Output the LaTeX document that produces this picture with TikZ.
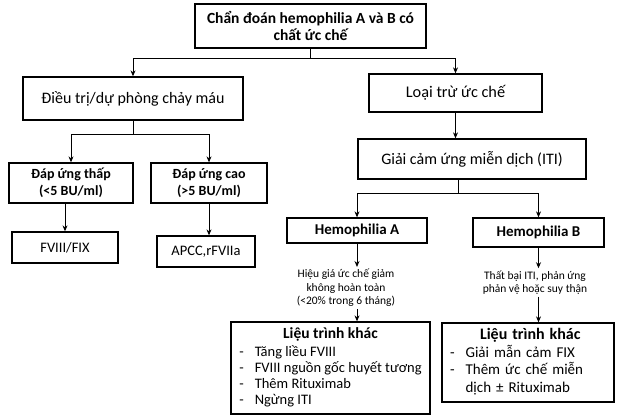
\documentclass[tikz,border=0pt]{standalone}
\usepackage{fontspec}
\setmainfont{Carlito}
\usetikzlibrary{arrows.meta}

\tikzset{
	box/.style={draw, line width=1.3pt, align=center, inner sep=2pt},
	note/.style={align=center, inner sep=2pt, font=\fontsize{11.5}{13.5}\selectfont},
	arr/.style={line width=0.9pt, -{Stealth[length=6pt,width=5pt]}},
}

\begin{document}
\begin{tikzpicture}[x=1pt, y=1pt]
		%%%%% START %%%%%
		\useasboundingbox (0, 0) rectangle (618, 418);
		
		\node[box, minimum width=231pt, minimum height=44pt, font=\fontsize{15.5}{16.5}\selectfont\bfseries] (chandoan) at (310.5, 392) {Chẩn đoán hemophilia A và B có\\chất ức chế};
		
		\node[box, minimum width=220pt, minimum height=43pt, font=\fontsize{16}{20}\selectfont] (dieutri) at (133, 319.5) {Điều trị/dự phòng chảy máu};
		\node[box, minimum width=173pt, minimum height=38pt, font=\fontsize{16.3}{20}\selectfont] (loaitru) at (455.5, 325) {Loại trừ ức chế};
		
		\node[box, minimum width=124pt, minimum height=40pt, font=\fontsize{14}{17}\selectfont\bfseries] (thap) at (71, 235) {Đáp ứng thấp\\(<5 BU/ml)};
		\node[box, minimum width=116pt, minimum height=40pt, font=\fontsize{14}{17}\selectfont\bfseries] (cao) at (209, 235) {Đáp ứng cao\\(>5 BU/ml)};
		
		\node[box, minimum width=106pt, minimum height=31pt, font=\fontsize{14.5}{18}\selectfont] (fviii) at (65, 170.5) {FVIII/FIX};
		\node[box, minimum width=98pt, minimum height=31pt, font=\fontsize{14.5}{18}\selectfont] (apcc) at (206, 166.5) {APCC,rFVIIa};
		
		\node[box, minimum width=228pt, minimum height=40pt, font=\fontsize{16}{19}\selectfont] (giaicam) at (472, 259) {Giải cảm ứng miễn dịch (ITI)};
		
		\node[box, minimum width=140pt, minimum height=25pt, font=\fontsize{15}{18}\selectfont\bfseries] (hemoA) at (357, 187.5) {Hemophilia A};
		\node[box, minimum width=131pt, minimum height=29pt, font=\fontsize{15}{18}\selectfont\bfseries] (hemoB) at (538.5, 185.5) {Hemophilia B};
		
		\node[note] (noteA) at (346, 130) {Hiệu giá ức chế giảm\\không hoàn toàn\\(<20\% trong 6 tháng)};
		\node[note] (noteB) at (535, 135.5) {Thất bại ITI, phản ứng\\phản vệ hoặc suy thận};
		
		\node[box, minimum width=199pt, minimum height=92pt, font=\fontsize{14.5}{16}\selectfont] (lieuA) at (330.5, 50) {%
			\begin{tabular}{@{}l@{\hspace{11pt}}l@{}}
				\multicolumn{2}{c}{\bfseries\fontsize{15.5}{16}\selectfont Liệu trình khác}\\[2pt]
				- & Tăng liều FVIII\\
				- & FVIII nguồn gốc huyết tương\\
				- & Thêm Rituximab\\
				- & Ngừng ITI
			\end{tabular}};
		\node[box, text width=156pt, inner xsep=8pt, minimum height=79pt, align=left, font=\fontsize{15}{17.5}\selectfont] (lieuB) at (528, 55.5) {%
			\noindent\begin{tabular}{@{}l@{\hspace{11pt}}l@{}}
				\multicolumn{2}{@{\hspace{30pt}}l@{}}{\bfseries\fontsize{16}{17.5}\selectfont Liệu trình khác}\\
				- & Giải mẫn cảm FIX\\
				- & Thêm ức chế miễn\\
				  & dịch ± Rituximab
			\end{tabular}};
		
		%% connectors
		\draw[arr] (chandoan.south) -- ++(0, -10) -| (dieutri.north);
		\draw[arr] (chandoan.south) -- ++(0, -10) -| (loaitru.north);
		
		\draw[arr] (dieutri.south) -- ++(0, -14) -| (thap.north);
		\draw[arr] (dieutri.south) -- ++(0, -14) -| (cao.north);
		\draw[arr] (fviii.north |- thap.south) -- (fviii.north);
		\draw[arr] (cao.south) -- (cao.south |- apcc.north);
		
		\draw[arr] (loaitru.south) -- (loaitru.south |- giaicam.north);
		\draw[arr] ([xshift=-14pt]giaicam.south) -- ++(0, -14) -| (hemoA.north);
		\draw[arr] ([xshift=-14pt]giaicam.south) -- ++(0, -14) -| (hemoB.north);
		
		\draw[arr] (hemoA.south) -- (hemoA.south |- noteA.north);
		\draw[arr] (noteA.south -| hemoA.south) -- (hemoA.south |- lieuA.north);
		\draw[arr] (hemoB.south) -- (hemoB.south |- noteB.north);
		\draw[arr] (noteB.south -| hemoB.south) -- (hemoB.south |- lieuB.north);
		
		%%%%% END %%%%%
\end{tikzpicture}
\end{document}
